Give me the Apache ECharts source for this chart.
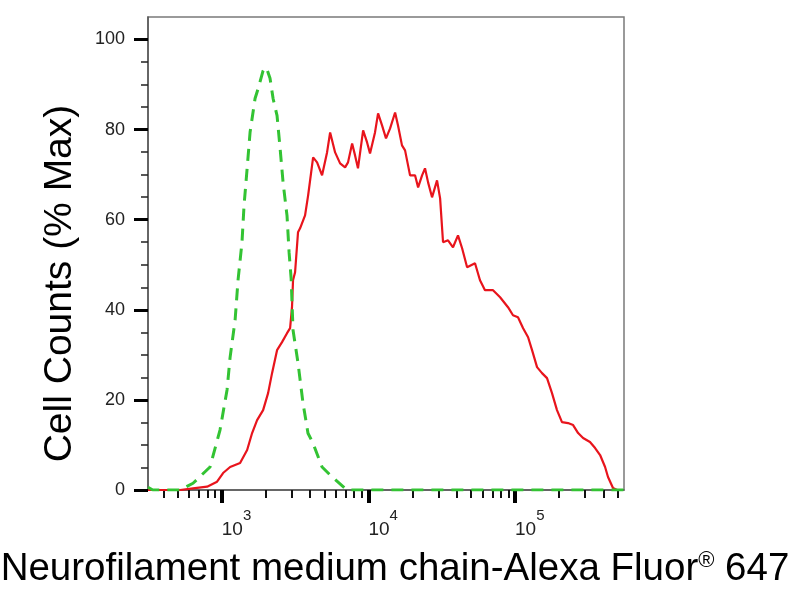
<!DOCTYPE html>
<html>
<head>
<meta charset="utf-8">
<script src="https://cdn.jsdelivr.net/npm/echarts@6/dist/echarts.min.js"></script>
<style>
  html, body { margin: 0; padding: 0; background: #fff; }
  #chart { width: 800px; height: 600px; }
</style>
</head>
<body>
<div id="chart"></div>
<script>
// x in log10(fluorescence), y in % of max
var xMin = 2.497, xMax = 5.743;
var majorDecades = [3, 4, 5];
var yMajor = [0, 20, 40, 60, 80, 100];
var yMinor = [5, 10, 15, 25, 30, 35, 45, 50, 55, 65, 70, 75, 85, 90, 95];

// isotype control (green dashed)
var ctrlLog = [2.497, 2.53, 2.716, 2.804, 2.92, 2.988, 3.036, 3.057, 3.091, 3.111, 3.138, 3.152, 3.173, 3.193, 3.227, 3.248, 3.281, 3.295, 3.309, 3.329, 3.35, 3.377, 3.398, 3.418, 3.445, 3.459, 3.473, 3.486, 3.52, 3.554, 3.588, 3.622, 3.684, 3.752, 3.854, 5.743];
var ctrlPct = [0.6, 0, 0, 1.5, 5.1, 13.3, 22.2, 29.5, 37.7, 46.6, 55.0, 63.2, 71.4, 79.4, 86.9, 89.1, 93.0, 93.8, 93.3, 91.4, 86.9, 83.1, 75.8, 68.3, 60.9, 52.8, 47.0, 35.5, 28.2, 19.3, 12.6, 10.4, 5.1, 2.9, 0, 0];

// Neurofilament medium chain (red)
var nfmLog = [2.497, 2.716, 2.804, 2.9, 2.968, 3.009, 3.057, 3.125, 3.173, 3.207, 3.241, 3.282, 3.316, 3.343, 3.377, 3.411, 3.445, 3.466, 3.479, 3.486, 3.5, 3.52, 3.534, 3.568, 3.589, 3.623, 3.65, 3.684, 3.718, 3.739, 3.773, 3.807, 3.841, 3.861, 3.889, 3.909, 3.929, 3.964, 3.991, 4.011, 4.045, 4.066, 4.093, 4.12, 4.148, 4.182, 4.202, 4.229, 4.25, 4.284, 4.318, 4.339, 4.366, 4.386, 4.407, 4.434, 4.468, 4.489, 4.509, 4.543, 4.577, 4.611, 4.639, 4.673, 4.727, 4.761, 4.795, 4.85, 4.898, 4.952, 4.986, 5.02, 5.055, 5.089, 5.116, 5.15, 5.184, 5.218, 5.252, 5.286, 5.32, 5.361, 5.396, 5.43, 5.464, 5.511, 5.546, 5.58, 5.614, 5.634, 5.668, 5.696];
var nfmPct = [0, 0, 0.38, 0.73, 1.84, 3.77, 5.1, 5.99, 8.87, 12.64, 15.52, 17.74, 21.51, 25.94, 31.04, 32.82, 34.81, 35.92, 40.58, 46.56, 48.33, 57.2, 58.09, 60.98, 65.41, 73.84, 72.73, 69.85, 74.94, 79.38, 74.94, 72.51, 71.62, 72.73, 76.94, 74.28, 71.4, 79.82, 77.16, 74.72, 79.38, 83.59, 80.93, 78.05, 80.27, 83.81, 80.93, 76.5, 75.39, 69.85, 69.85, 67.18, 69.85, 71.4, 68.29, 64.97, 68.74, 64.75, 54.99, 55.43, 53.88, 56.54, 53.66, 49.45, 50.33, 46.56, 44.35, 44.35, 42.79, 40.58, 38.8, 38.36, 35.92, 33.92, 31.04, 27.27, 25.94, 24.83, 21.51, 17.74, 15.08, 14.86, 14.41, 12.64, 11.53, 10.64, 9.31, 7.76, 5.1, 2.88, 0.44, 0];

var xMinor = [];
[2, 3, 4, 5].forEach(function (d) {
    for (var k = 2; k <= 9; k++) {
        var v = d + Math.log10(k);
        if (v > xMin && v < xMax) xMinor.push(v);
    }
});

var pairs = function (xs, ys) {
    return xs.map(function (x, i) { return [x, ys[i]]; });
};

var tickFont = '"Liberation Sans Narrow", "Arial Narrow", "Liberation Sans", Arial, sans-serif';
var nameFont = '"Liberation Sans", Arial, sans-serif';

var myChart = echarts.init(document.getElementById('chart'));
var option = {
    backgroundColor: '#fff',
    animation: false,
    grid: {
        left: 148, right: 176, top: 17, bottom: 110,
        containLabel: false, outerBoundsMode: 'none',
        show: true, borderColor: '#7a7a7a', borderWidth: 1.5
    },
    xAxis: [{
        type: 'value', min: xMin, max: xMax, position: 'bottom',
        name: 'Neurofilament medium chain-Alexa Fluor{r|®} 647',
        nameLocation: 'middle', nameGap: 60,
        nameTextStyle: {
            fontFamily: nameFont, fontSize: 38.5, color: '#000', padding: [0, 0, 0, 18],
            rich: { r: { fontFamily: nameFont, fontSize: 22, color: '#000', verticalAlign: 'top', padding: [0, 0, 10, 0] } }
        },
        axisLine: { onZero: false, lineStyle: { color: '#555', width: 1.5 } },
        axisTick: { customValues: majorDecades, length: 13, lineStyle: { color: '#000', width: 4 } },
        axisLabel: {
            customValues: majorDecades, margin: 18, align: 'left',
            formatter: function (v) { return '{b|10}{s|' + v + '}'; },
            rich: {
                b: { fontFamily: tickFont, fontSize: 19, color: '#222', verticalAlign: 'bottom', padding: [12, 0, 0, 0] },
                s: { fontFamily: tickFont, fontSize: 15, color: '#222', verticalAlign: 'top' }
            }
        },
        splitLine: { show: false }
    }, {
        type: 'value', min: xMin, max: xMax, position: 'bottom',
        axisLine: { show: false },
        axisTick: { customValues: xMinor, length: 8, lineStyle: { color: '#111', width: 2 } },
        axisLabel: { show: false },
        splitLine: { show: false }
    }],
    yAxis: [{
        type: 'value', min: 0, max: 105, position: 'left',
        name: 'Cell Counts (% Max)',
        nameLocation: 'middle', nameGap: 68, nameRotate: 90,
        nameTextStyle: { fontFamily: nameFont, fontSize: 39, color: '#000', padding: [0, 60, 0, 0] },
        axisLine: { onZero: false, lineStyle: { color: '#555', width: 1.5 } },
        axisTick: { customValues: yMajor, length: 14, lineStyle: { color: '#000', width: 3 } },
        axisLabel: { customValues: yMajor, margin: 23, fontFamily: tickFont, fontSize: 18, color: '#222' },
        splitLine: { show: false }
    }, {
        type: 'value', min: 0, max: 105, position: 'left',
        axisLine: { show: false },
        axisTick: { customValues: yMinor, length: 7, lineStyle: { color: '#222', width: 1.5 } },
        axisLabel: { show: false },
        splitLine: { show: false }
    }],
    series: [{
        name: 'Neurofilament medium chain',
        type: 'line', xAxisIndex: 0, yAxisIndex: 0,
        showSymbol: false, symbol: 'none',
        lineStyle: { color: '#e8141c', width: 2.2 },
        data: pairs(nfmLog, nfmPct)
    }, {
        name: 'Isotype control',
        type: 'line', xAxisIndex: 0, yAxisIndex: 0,
        showSymbol: false, symbol: 'none',
        lineStyle: { color: '#33c333', width: 3, type: [12, 8] },
        data: pairs(ctrlLog, ctrlPct)
    }]
};
myChart.setOption(option);
</script>
</body>
</html>
